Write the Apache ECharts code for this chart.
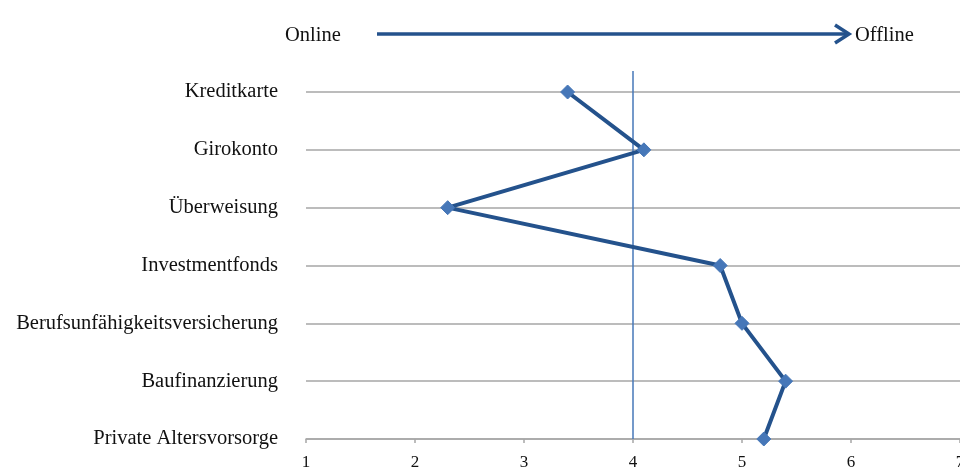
<!DOCTYPE html>
<html>
<head>
<meta charset="utf-8">
<script src="https://cdn.jsdelivr.net/npm/echarts@6/dist/echarts.min.js"></script>
<style>
  html, body { margin: 0; padding: 0; background: #ffffff; overflow: hidden; }
  #chart { width: 960px; height: 470px; }
</style>
</head>
<body>
<div id="chart"></div>
<script>
// Banking products, ordered top to bottom
const categories = [
  'Kreditkarte',
  'Girokonto',
  'Überweisung',
  'Investmentfonds',
  'Berufsunfähigkeitsversicherung',
  'Baufinanzierung',
  'Private Altersvorsorge'
];
// Mean position on the online (1) to offline (7) scale
const scores = [3.4, 4.1, 2.3, 4.8, 5.0, 5.4, 5.2];
// Scale midpoint marked with a vertical line
const referenceValue = 4;
const scaleMin = 1;
const scaleMax = 7;

const serif = '"Liberation Serif", "Times New Roman", serif';
const lineBlue = '#24528c';
const markerBlue = '#4677b8';
const gridGray = '#a6a6a6';

const chart = echarts.init(document.getElementById('chart'));

chart.setOption({
  animation: false,
  backgroundColor: '#ffffff',
  grid: [
    { left: 306, right: 0, top: 92, bottom: 31, containLabel: false, outerBoundsMode: 'none' },
    { left: 306, right: 0, top: 71, bottom: 31, containLabel: false, outerBoundsMode: 'none' }
  ],
  xAxis: [
    {
      gridIndex: 0,
      type: 'value',
      min: scaleMin,
      max: scaleMax,
      interval: 1,
      axisLine: { show: true, lineStyle: { color: gridGray, width: 1.5 } },
      axisTick: { show: true, length: 4, lineStyle: { color: gridGray, width: 1.5 } },
      axisLabel: { color: '#111', fontFamily: serif, fontSize: 17, margin: 15 },
      splitLine: { show: false }
    },
    {
      gridIndex: 1,
      type: 'value',
      min: scaleMin,
      max: scaleMax,
      show: false
    }
  ],
  yAxis: [
    {
      gridIndex: 0,
      type: 'category',
      data: categories,
      inverse: true,
      boundaryGap: false,
      axisLine: { show: false },
      axisTick: { show: false },
      axisLabel: { color: '#111', fontFamily: serif, fontSize: 20.5, margin: 28, padding: [8, 0, 0, 0] },
      splitLine: { show: true, lineStyle: { color: gridGray, width: 1.5 } }
    },
    {
      gridIndex: 1,
      type: 'value',
      min: 0,
      max: 1,
      show: false
    }
  ],
  graphic: [
    {
      type: 'text',
      left: 285,
      top: 25,
      style: { text: 'Online', fontFamily: serif, fontSize: 20.5, fill: '#111' }
    },
    {
      type: 'line',
      shape: { x1: 377, y1: 34, x2: 848, y2: 34 },
      style: { stroke: lineBlue, lineWidth: 3.5 }
    },
    {
      type: 'polyline',
      shape: { points: [[835, 25], [849, 34], [835, 43]] },
      style: { stroke: lineBlue, lineWidth: 3.5, fill: null }
    },
    {
      type: 'text',
      left: 855,
      top: 25,
      style: { text: 'Offline', fontFamily: serif, fontSize: 20.5, fill: '#111' }
    }
  ],
  series: [
    {
      type: 'line',
      xAxisIndex: 1,
      yAxisIndex: 1,
      data: [[referenceValue, 0], [referenceValue, 1]],
      symbol: 'none',
      lineStyle: { color: markerBlue, width: 1.5 },
      silent: true,
      z: 1
    },
    {
      type: 'line',
      xAxisIndex: 0,
      yAxisIndex: 0,
      data: scores.map((v, i) => [v, categories[i]]),
      symbol: 'diamond',
      symbolSize: 14,
      lineStyle: { color: lineBlue, width: 4 },
      itemStyle: { color: markerBlue, borderColor: markerBlue },
      z: 3
    }
  ]
});
</script>
</body>
</html>
